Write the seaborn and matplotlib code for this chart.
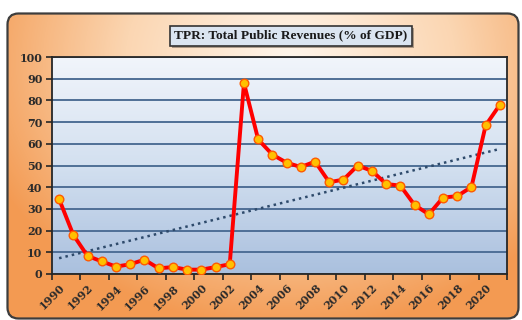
import numpy as np
import pandas as pd
import matplotlib
matplotlib.use("Agg")
import matplotlib.pyplot as plt
import matplotlib.patheffects as pe
import seaborn as sns
from matplotlib.patches import FancyBboxPatch
from matplotlib.colors import LinearSegmentedColormap

# Total public revenues, % of GDP
years = list(range(1990, 2022))
revenue = [34.5, 18.0, 8.3, 5.8, 3.4, 4.5, 6.6, 2.6, 3.2, 2.0, 2.0, 3.2, 4.5,
           88.0, 62.0, 55.0, 51.3, 49.3, 51.8, 42.3, 43.5, 50.0, 47.5, 41.5,
           40.7, 31.8, 27.5, 35.2, 35.9, 40.1, 68.5, 78.0]
tick_years = list(range(1990, 2021, 2))
y_ticks = list(range(0, 101, 10))
title = "TPR: Total Public Revenues (% of GDP)"

W, H = 522, 320
sns.set_theme(style="white")
plt.rcParams['font.family'] = ['DejaVu Serif']

fig = plt.figure(figsize=(W / 100, H / 100), dpi=100)
fig.patch.set_facecolor('white')

# Rounded orange panel with a soft radial glow
bg = fig.add_axes([0, 0, 1, 1])
bg.set_axis_off()
bg.set_xlim(0, W)
bg.set_ylim(H, 0)
yy, xx = np.mgrid[0:H, 0:W]
r = np.clip(np.sqrt(((xx - 290) / 330) ** 2 + ((yy - 60) / 270) ** 2), 0, 1)
orange = LinearSegmentedColormap.from_list('panel', ['#fff6ec', '#fbd6b2', '#f39a52'])
img = bg.imshow(r, cmap=orange, extent=(0, W, H, 0), vmin=0, vmax=1,
                aspect='auto', interpolation='bilinear')
panel = FancyBboxPatch((7.5, 13.5), 511, 305,
                       boxstyle="round,pad=0,rounding_size=11",
                       transform=bg.transData, facecolor='none',
                       edgecolor='#3d3d3d', lw=1.6, zorder=5)
bg.add_patch(panel)
img.set_clip_path(panel)

# Plot area
ax = fig.add_axes([52 / W, 1 - 274 / H, 455 / W, 217 / H])
blue = LinearSegmentedColormap.from_list('plot', ['#f1f5fb', '#d3e0f0', '#aac0de'])
ax.imshow(np.linspace(0, 1, 256).reshape(-1, 1), cmap=blue,
          extent=(1990, 2022, 0, 100), aspect='auto', zorder=0,
          interpolation='bicubic')

df = pd.DataFrame({'pos': np.array(years) + 0.5, 'value': revenue})

sns.regplot(data=df, x='pos', y='value', scatter=False, ci=None, ax=ax,
            line_kws=dict(color='#2e4a6b', lw=1.8, ls=(0, (1, 1.6)), zorder=3))
sns.lineplot(data=df, x='pos', y='value', ax=ax, color='#ff0000', lw=2.8,
             marker='o', markersize=6.2, markerfacecolor='#ffc000',
             markeredgecolor='#ff5a00', markeredgewidth=1.0, zorder=4)

ax.set_xlim(1990, 2022)
ax.set_ylim(0, 100)
ax.set_yticks(y_ticks)
ax.yaxis.grid(True, color='#4f6f96', lw=1.4)
ax.set_axisbelow(True)
ax.set_xlabel('')
ax.set_ylabel('')

ax.set_xticks(np.array(tick_years) + 0.5)
ax.set_xticklabels([str(y) for y in tick_years])
ax.set_xticks(list(range(1990, 2023, 2)), minor=True)
ax.tick_params(axis='x', which='major', length=0, pad=6, labelsize=8,
               labelcolor='#2b2b2b')
ax.tick_params(axis='x', which='minor', length=4, width=1.2, color='#262626',
               direction='out', bottom=True)
ax.tick_params(axis='y', length=4, width=1.2, color='#262626', direction='out',
               left=True, pad=3, labelsize=8, labelcolor='#2b2b2b')
for lab in ax.get_xticklabels():
    lab.set_rotation(45)
    lab.set_ha('right')
    lab.set_va('top')
    lab.set_rotation_mode('anchor')
    lab.set_fontweight('bold')
for lab in ax.get_yticklabels():
    lab.set_fontweight('bold')

for s in ax.spines.values():
    s.set_visible(True)
    s.set_color('#262626')
    s.set_linewidth(1.3)

t = fig.text(291 / W, 1 - 35.5 / H, title, ha='center', va='center',
             fontsize=9.6, fontweight='bold', color='#1a1a1a',
             family=['Liberation Serif', 'DejaVu Serif'],
             bbox=dict(boxstyle='square,pad=0.3', fc='#dbe5f1', ec='#333333', lw=1.2))
t.get_bbox_patch().set_path_effects([
    pe.SimplePatchShadow(offset=(1.5, -1.5), shadow_rgbFace='#7a6a5a', alpha=0.6),
    pe.Normal()])

fig.savefig('out.png', dpi=100)
